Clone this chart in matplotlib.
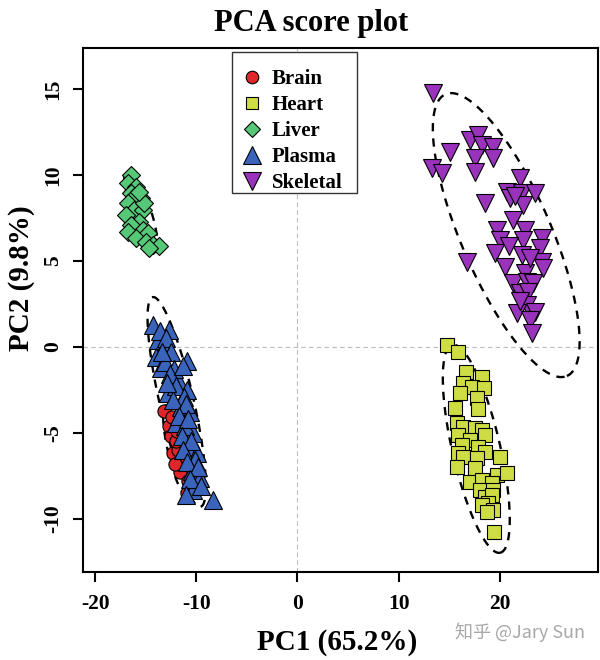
import numpy as np
import matplotlib
matplotlib.use("Agg")
import matplotlib.pyplot as plt
from matplotlib.lines import Line2D
from matplotlib.patches import Rectangle

plt.rcParams['font.family'] = ['Liberation Serif', 'DejaVu Serif']
plt.rcParams['font.weight'] = 'bold'
plt.rcParams['axes.unicode_minus'] = False

# ---- data (PC1, PC2 scores) ----
brain_x = [-13.2, -12.7, -12.5, -12.3, -11.8, -12.0, -11.5, -11.2, -10.9, -11.9,
           -12.4, -11.6, -11.0, -12.1, -10.8]
brain_y = [-3.7, -4.6, -5.2, -6.2, -6.0, -5.5, -6.6, -7.0, -8.5, -4.9,
           -4.1, -7.3, -6.4, -6.8, -7.8]

heart_x = [14.81, 15.89, 16.68, 18.26, 16.39, 17.28, 18.46, 16.09, 17.77, 15.60,
           17.87, 15.79, 16.39, 17.57, 18.26, 15.89, 18.56, 17.08, 16.29, 17.87,
           15.89, 18.56, 16.39, 20.04, 17.77, 15.79, 17.57, 19.74, 20.73, 17.08,
           18.26, 19.25, 18.07, 19.35, 18.56, 19.25, 18.85, 18.26, 19.35, 18.76,
           19.45]
heart_y = [0.12, -0.29, -1.45, -1.74, -2.09, -2.33, -2.38, -2.67, -2.97, -3.55,
           -3.60, -4.42, -4.65, -4.71, -4.83, -5.12, -5.12, -5.41, -5.70, -5.81,
           -6.16, -6.10, -6.40, -6.40, -6.45, -6.98, -7.03, -7.44, -7.33, -7.85,
           -7.73, -7.91, -8.31, -8.31, -8.72, -8.60, -9.07, -9.19, -9.48, -9.59,
           -10.76]

liver_x = [-16.49, -16.78, -15.99, -16.49, -15.50, -16.19, -16.78, -16.19, -15.30, -16.98,
           -15.70, -16.49, -15.30, -16.78, -14.81, -15.99, -15.00, -14.31, -13.72, -14.71,
           -15.20, -15.70]
liver_y = [10.00, 9.53, 9.30, 8.95, 8.66, 8.72, 8.37, 7.97, 7.97, 7.67,
           7.27, 7.09, 6.80, 6.69, 6.63, 6.34, 6.10, 5.93, 5.87, 5.76,
           8.37, 9.01]

plasma_x = [-14.3, -12.7, -13.8, -13.2, -14.0, -10.9, -13.5, -11.8, -10.9, -12.8,
            -11.5, -10.6, -12.0, -10.3, -10.9, -9.9, -10.4, -9.6, -10.3, -8.4,
            -13.6, -13.0, -12.5, -13.1, -12.2, -12.6, -11.3, -12.0, -11.2, -12.3,
            -11.0, -11.7, -11.1, -10.8, -11.4, -10.5, -11.3, -10.1, -10.9, -9.8,
            -10.6, -9.5, -11.0, -12.9, -13.4]
plasma_y = [1.3, 1.0, 0.4, 0.0, -0.6, -0.8, -1.2, -1.9, -2.5, -2.7,
            -3.5, -3.8, -4.4, -5.0, -5.8, -6.2, -7.2, -7.6, -8.3, -8.9,
            0.9, 0.5, -0.3, -0.9, -1.3, -1.6, -1.1, -2.3, -2.9, -3.1,
            -3.3, -4.0, -4.6, -4.2, -5.2, -5.5, -6.0, -6.6, -6.7, -7.0,
            -7.7, -8.1, -8.6, -2.1, -0.3]

skeletal_x = [13.43, 17.08, 17.87, 18.26, 19.35, 15.10, 17.57, 19.35, 13.33, 14.31,
              17.57, 22.01, 20.73, 22.21, 23.49, 18.56, 21.03, 22.31, 21.32, 19.74,
              22.51, 24.19, 20.04, 22.31, 23.99, 19.55, 22.21, 24.19, 16.78, 20.53,
              24.28, 22.51, 21.32, 22.71, 23.30, 22.01, 22.80, 22.71, 21.72, 23.49,
              23.00, 23.20, 21.50, 23.00, 22.00, 20.90]
skeletal_y = [14.77, 12.03, 12.33, 11.74, 11.63, 11.34, 10.99, 10.99, 10.41, 10.12,
              10.17, 9.83, 9.01, 8.95, 8.95, 8.37, 8.66, 8.26, 7.38, 6.80,
              6.80, 6.34, 6.22, 6.22, 5.76, 5.47, 5.35, 4.94, 4.94, 4.65,
              4.59, 4.30, 3.72, 3.78, 3.72, 3.14, 3.20, 2.44, 1.98, 2.03,
              1.57, 0.81, 8.80, 5.20, 2.70, 5.90]

# confidence ellipses: centre, semi-axis vector 1, semi-axis vector 2 (data units)
ell_centres = [(-12.0, -6.0), (17.67, -5.93), (-15.5, 7.9), (-11.94, -3.20), (20.63, 6.51)]
ell_axis1 = [(1.0, -2.6), (2.37, -6.05), (1.33, -2.27), (2.37, -6.10), (6.0, -8.2)]
ell_axis2 = [(0.8, 0.1), (2.31, 0.31), (0.93, 0.19), (1.64, 0.22), (4.08, 1.04)]

groups = ['Brain', 'Heart', 'Liver', 'Plasma', 'Skeletal']
colors = ['#E0262A', '#CFDD44', '#55C978', '#3A64BC', '#9933BB']
markers = ['o', 's', 'D', '^', 'v']
msizes = [9.5, 9.5, 9.0, 13, 13]
xs = [brain_x, heart_x, liver_x, plasma_x, skeletal_x]
ys = [brain_y, heart_y, liver_y, plasma_y, skeletal_y]

fig = plt.figure(figsize=(6, 6.6), dpi=100)
ax = fig.add_axes([83 / 600, 1 - 572 / 660, (598 - 83) / 600, (572 - 48) / 660])

ax.axhline(0, color='#bbbbbb', lw=0.8, ls=(0, (4, 3)), zorder=0)
ax.axvline(0, color='#bbbbbb', lw=0.8, ls=(0, (4, 3)), zorder=0)

t = np.linspace(0, 2 * np.pi, 200)
for c, a1, a2 in zip(ell_centres, ell_axis1, ell_axis2):
    ex = c[0] + a1[0] * np.cos(t) + a2[0] * np.sin(t)
    ey = c[1] + a1[1] * np.cos(t) + a2[1] * np.sin(t)
    ax.plot(ex, ey, color='black', lw=1.7, dashes=(3.5, 3), zorder=1)

for g, x, y, col, m, s in zip(groups, xs, ys, colors, markers, msizes):
    ax.plot(x, y, ls='none', marker=m, ms=s, mfc=col, mec='black', mew=0.8, zorder=2)

ax.set_xlim(-21.2, 29.7)
ax.set_ylim(-13.1, 17.4)
ax.set_xticks([-20, -10, 0, 10, 20])
ax.set_yticks([-10, -5, 0, 5, 10, 15])
for sp in ax.spines.values():
    sp.set_linewidth(1.5)
ax.tick_params(direction='out', length=7, width=1.5, labelsize=15.5)
ax.tick_params(axis='x', pad=9)
ax.tick_params(axis='y', pad=7)
for lab in ax.get_yticklabels():
    lab.set_rotation(90)
    lab.set_va('center')

# legend: frame drawn separately (R-style uneven padding)
ax.add_patch(Rectangle((0.2893, 0.7233), 0.2427, 0.2691, transform=ax.transAxes,
                       facecolor='white', edgecolor='#333333', lw=1.0, zorder=3))
handles = [Line2D([], [], ls='none', marker=m, ms=s * 0.95, mfc=col, mec='black', mew=0.8)
           for m, s, col in zip(markers, msizes, colors)]
leg = ax.legend(handles, groups, loc='upper left',
                bbox_to_anchor=((241.6 - 83) / 515, (572 - 69) / 524),
                prop={'size': 15, 'weight': 'bold'}, frameon=False,
                handlelength=1.0, handletextpad=0.46,
                labelspacing=0.29, borderpad=0.0, borderaxespad=0.0)
leg.set_zorder(4)

fig.text(311 / 600, 1 - 31 / 660, 'PCA score plot', ha='center', va='baseline',
         fontsize=22, fontweight='bold')
fig.text(337 / 600, 1 - 650 / 660, 'PC1 (65.2%)', ha='center', va='baseline',
         fontsize=21, fontweight='bold')
fig.text(22 / 600, 1 - 278 / 660, 'PC2 (9.8%)', ha='center', va='center',
         fontsize=21, fontweight='bold', rotation=90)
fig.text(520 / 600, 1 - 632 / 660, '知乎 @Jary Sun', ha='center', va='center',
         fontsize=13, color='#a8a8a8', fontweight='normal',
         family=['Noto Sans CJK SC', 'DejaVu Sans'])

fig.savefig('out.png', dpi=100)
